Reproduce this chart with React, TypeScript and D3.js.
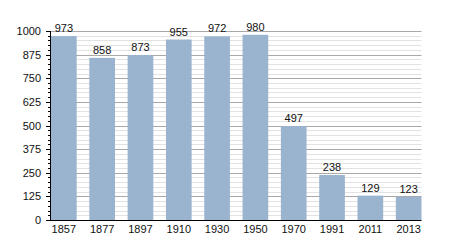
import React from "react";
import * as d3 from "d3";

const years = ["1857", "1877", "1897", "1910", "1930", "1950", "1970", "1991", "2011", "2013"];
const population = [973, 858, 873, 955, 972, 980, 497, 238, 129, 123];
const majorTicks = [0, 125, 250, 375, 500, 625, 750, 875, 1000];

export default function App() {
  const W = 450, H = 250;
  const axisX = 50, right = 421.5, top = 31, bottom = 220;
  const x = d3.scaleBand<string>().domain(years).range([51, right]).paddingInner(0.33).paddingOuter(0).align(0);
  const y = d3.scaleLinear().domain([0, 1000]).range([bottom, top]);
  const minor = d3.range(0, 1001, 25).filter((v) => v % 125 !== 0);
  const font = "Liberation Sans, Arial, sans-serif";
  return (
    <svg width={W} height={H} style={{ position: "absolute", left: 0, top: 0 }}>
      <rect width={W} height={H} fill="#fff" />
      {minor.map((v) => (
        <line key={"m" + v} x1={axisX} x2={right} y1={Math.round(y(v)) + 0.5} y2={Math.round(y(v)) + 0.5} stroke="#e2e2e2" strokeWidth={1} />
      ))}
      {majorTicks.filter((v) => v > 0).map((v) => (
        <line key={"M" + v} x1={axisX} x2={right} y1={Math.round(y(v)) + 0.5} y2={Math.round(y(v)) + 0.5} stroke="#a8a8a8" strokeWidth={1} />
      ))}
      {years.map((yr, i) => (
        <rect key={yr} x={x(yr)} y={y(population[i])} width={x.bandwidth()} height={bottom - y(population[i])} fill="#9ab3cf" />
      ))}
      {years.map((yr, i) => (
        <text key={"v" + yr} x={(x(yr) as number) + x.bandwidth() / 2} y={y(population[i]) - 4} textAnchor="middle" fontFamily={font} fontSize={11} fill="#111">
          {population[i]}
        </text>
      ))}
      <line x1={axisX + 0.5} x2={axisX + 0.5} y1={top} y2={bottom} stroke="#000" />
      <line x1={axisX} x2={right} y1={bottom + 0.5} y2={bottom + 0.5} stroke="#000" />
      {minor.map((v) => (
        <line key={"mt" + v} x1={axisX - 2} x2={axisX} y1={Math.round(y(v)) + 0.5} y2={Math.round(y(v)) + 0.5} stroke="#000" />
      ))}
      {majorTicks.map((v) => (
        <g key={"t" + v}>
          <line x1={axisX - 4} x2={axisX} y1={Math.round(y(v)) + 0.5} y2={Math.round(y(v)) + 0.5} stroke="#000" />
          <text x={axisX - 9} y={y(v) + 4} textAnchor="end" fontFamily={font} fontSize={11} fill="#111">{v}</text>
        </g>
      ))}
      {years.map((yr) => (
        <text key={"x" + yr} x={(x(yr) as number) + x.bandwidth() / 2} y={bottom + 13} textAnchor="middle" fontFamily={font} fontSize={11} fill="#111">
          {yr}
        </text>
      ))}
    </svg>
  );
}
